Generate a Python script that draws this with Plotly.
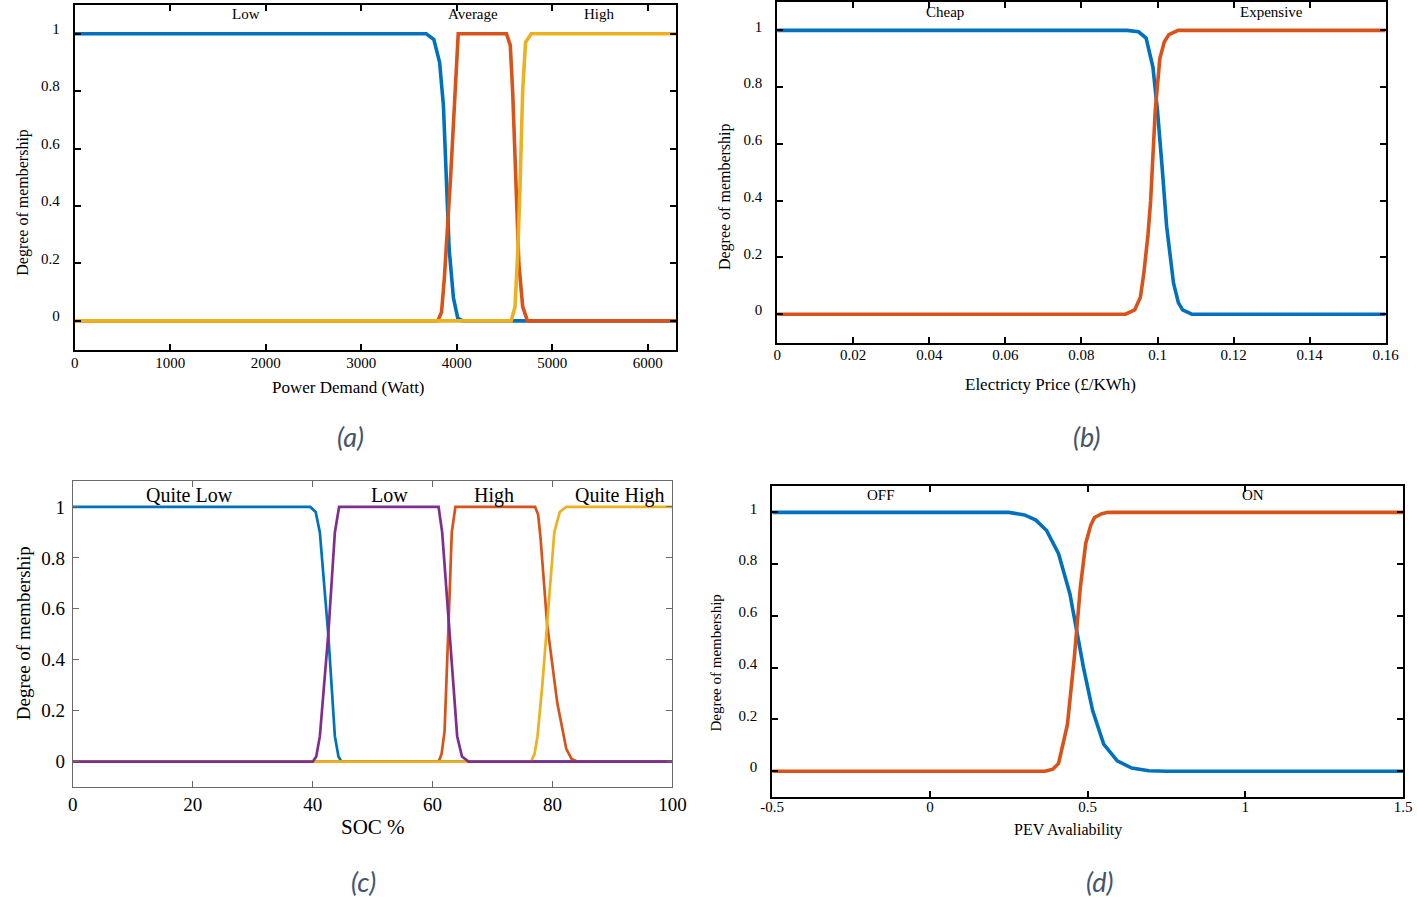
import plotly.graph_objects as go

W, H = 1417, 900

# ---------------- data ----------------
# (a) Power demand membership functions
pd_low_x = [0, 3680, 3760, 3820, 3860, 3890, 3920, 3965, 4010, 4060, 6300]
pd_low_y = [1, 1, 0.98, 0.9, 0.75, 0.5, 0.25, 0.08, 0.01, 0, 0]
pd_avg_x = [0, 3800, 3840, 3870, 3935, 4015, 4520, 4560, 4585, 4615, 4650, 4690, 4740, 6300]
pd_avg_y = [0, 0, 0.03, 0.15, 0.5, 1, 1, 0.96, 0.8, 0.5, 0.2, 0.05, 0, 0]
pd_high_x = [0, 4570, 4610, 4640, 4665, 4690, 4720, 4780, 6300]
pd_high_y = [0, 0, 0.05, 0.25, 0.5, 0.8, 0.97, 1, 1]
pd_labels = ["Low", "Average", "High"]
pd_label_x = [1790, 4170, 5490]

# (b) Electricity price membership functions
ep_cheap_x = [0, 0.092, 0.095, 0.097, 0.0988, 0.1, 0.1012, 0.1024, 0.1042, 0.1055, 0.1066, 0.109, 0.16]
ep_cheap_y = [1, 1, 0.995, 0.973, 0.87, 0.716, 0.52, 0.31, 0.11, 0.04, 0.015, 0, 0]
ep_exp_x = [0, 0.0916, 0.094, 0.0955, 0.0964, 0.0975, 0.0982, 0.0994, 0.1006, 0.1018, 0.103, 0.1054, 0.16]
ep_exp_y = [0, 0, 0.015, 0.06, 0.144, 0.28, 0.40, 0.716, 0.90, 0.96, 0.985, 1, 1]
ep_labels = ["Cheap", "Expensive"]
ep_label_x = [0.0442, 0.130]

# (c) SOC membership functions
soc_ql_x = [0, 39.6, 40.5, 41.2, 42.6, 43.7, 44.3, 44.8, 100]
soc_ql_y = [1, 1, 0.98, 0.9, 0.5, 0.1, 0.02, 0, 0]
soc_hi_x = [0, 61.0, 61.5, 62.0, 62.6, 63.2, 63.8, 77.1, 77.6, 78.0, 79.1, 80.8, 82.3, 83.2, 84.2, 100]
soc_hi_y = [0, 0, 0.03, 0.12, 0.5, 0.9, 1, 1, 0.97, 0.88, 0.54, 0.23, 0.05, 0.01, 0, 0]
soc_qh_x = [0, 76.4, 77.0, 77.5, 78.3, 79.1, 79.7, 80.3, 81.2, 82.3, 100]
soc_qh_y = [0, 0, 0.03, 0.1, 0.3, 0.54, 0.75, 0.9, 0.98, 1, 1]
soc_lo_x = [0, 40.0, 40.6, 41.2, 42.6, 43.7, 44.4, 61.0, 61.6, 62.9, 64.1, 64.9, 66.0, 100]
soc_lo_y = [0, 0, 0.02, 0.1, 0.5, 0.9, 1, 1, 0.9, 0.5, 0.1, 0.02, 0, 0]
soc_labels = ["Quite Low", "Low", "High", "Quite High"]
soc_label_x = [19.5, 52.8, 70.2, 91.2]

# (d) PEV availability membership functions
pev_off_x = [-0.5, 0.25, 0.3, 0.336, 0.37, 0.408, 0.444, 0.465, 0.487, 0.516, 0.551, 0.594, 0.64, 0.694, 0.75, 1.5]
pev_off_y = [1, 1, 0.99, 0.97, 0.93, 0.84, 0.685, 0.54, 0.40, 0.234, 0.105, 0.04, 0.012, 0.002, 0, 0]
pev_on_x = [-0.5, 0.365, 0.39, 0.408, 0.436, 0.458, 0.477, 0.494, 0.51, 0.522, 0.545, 0.565, 1.5]
pev_on_y = [0, 0, 0.008, 0.03, 0.18, 0.44, 0.71, 0.88, 0.95, 0.98, 0.995, 1, 1]
pev_labels = ["OFF", "ON"]
pev_label_x = [-0.155, 1.025]

y_ticks = [0, 0.2, 0.4, 0.6, 0.8, 1]
y_ticktext = ["0", "0.2", "0.4", "0.6", "0.8", "1"]
pd_ticks = [0, 1000, 2000, 3000, 4000, 5000, 6000]
ep_ticks = [0, 0.02, 0.04, 0.06, 0.08, 0.1, 0.12, 0.14, 0.16]
ep_ticktext = ["0", "0.02", "0.04", "0.06", "0.08", "0.1", "0.12", "0.14", "0.16"]
soc_ticks = [0, 20, 40, 60, 80, 100]
pev_ticks = [-0.5, 0, 0.5, 1, 1.5]
pev_ticktext = ["-0.5", "0", "0.5", "1", "1.5"]

captions = ["(a)", "(b)", "(c)", "(d)"]

# ---------------- styling ----------------
BLUE, RED, YEL, PUR = "#0072BD", "#D95319", "#EDB120", "#7E2F8E"
SERIF = "Liberation Serif, Times New Roman, serif"

# horizontal placement compensation (observed offset/scale of the rendered page)
X_OFF, X_SCALE = 9.0, 0.984


def px_x(p):
    v = (p - X_OFF) / X_SCALE / W
    return min(max(v, 0.0), 1.0)


def px_y(p):
    return 1 - p / H


fig = go.Figure()


def add(x, y, color, ax, width=3.6):
    fig.add_trace(go.Scatter(x=x, y=y, mode="lines", line=dict(color=color, width=width),
                             xaxis="x" + ax, yaxis="y" + ax, showlegend=False, hoverinfo="skip"))


add(pd_low_x, pd_low_y, BLUE, "")
add(pd_avg_x, pd_avg_y, RED, "")
add(pd_high_x, pd_high_y, YEL, "")

add(ep_cheap_x, ep_cheap_y, BLUE, "2")
add(ep_exp_x, ep_exp_y, RED, "2")

add(soc_ql_x, soc_ql_y, BLUE, "3", 2.7)
add(soc_hi_x, soc_hi_y, RED, "3", 2.7)
add(soc_qh_x, soc_qh_y, YEL, "3", 2.7)
add(soc_lo_x, soc_lo_y, PUR, "3", 2.7)

add(pev_off_x, pev_off_y, BLUE, "4")
add(pev_on_x, pev_on_y, RED, "4")


def axis(dom, rng, tickvals, ticktext, anchor, fsize, thick=True, shift=0, standoff=4):
    d = dict(domain=dom, range=rng, anchor=anchor, showgrid=False, zeroline=False,
             showline=True, mirror="ticks", ticks="inside",
             tickvals=tickvals, ticktext=ticktext,
             tickfont=dict(family=SERIF, size=fsize, color="black"),
             ticklabelstandoff=standoff, fixedrange=True)
    if thick:
        d.update(linecolor="black", linewidth=2, tickcolor="black", tickwidth=2, ticklen=6)
    else:
        d.update(linecolor="#6a6a6a", linewidth=1, tickcolor="#6a6a6a", tickwidth=1, ticklen=6)
    if shift:
        d.update(ticklabelshift=shift)
    return d


# pixel boxes (left, top, right, bottom) as seen in the reference
boxA = (72, 4, 675, 349)
boxB = (776, 1, 1386, 342)
boxC = (70, 481, 671, 787)
boxD = (771, 486, 1410, 797)


def doms(b):
    return [px_x(b[0]), px_x(b[2])], [px_y(b[3]), px_y(b[1])]


xa, ya = doms(boxA)
xb, yb = doms(boxB)
xc, yc = doms(boxC)
xd, yd = doms(boxD)

yr = [-0.1, 1.1]
fig.update_layout(
    width=W, height=H, margin=dict(l=0, r=0, t=0, b=0),
    paper_bgcolor="white", plot_bgcolor="white", showlegend=False,
    xaxis=axis(xa, [0, 6300], pd_ticks, [str(v) for v in pd_ticks], "y", 15, standoff=-2),
    yaxis=axis(ya, yr, y_ticks, y_ticktext, "x", 15, shift=-5, standoff=10),
    xaxis2=axis(xb, [0, 0.16], ep_ticks, ep_ticktext, "y2", 15, standoff=-3),
    yaxis2=axis(yb, yr, y_ticks, y_ticktext, "x2", 15, shift=-4, standoff=10),
    xaxis3=axis(xc, [0, 100], soc_ticks, [str(v) for v in soc_ticks], "y3", 19, thick=False, standoff=0),
    yaxis3=axis(yc, yr, y_ticks, y_ticktext, "x3", 19, thick=False, standoff=3),
    xaxis4=axis(xd, [-0.5, 1.5], pev_ticks, pev_ticktext, "y4", 15, standoff=-5),
    yaxis4=axis(yd, yr, y_ticks, y_ticktext, "x4", 15, shift=-4, standoff=10),
)

ann = []


def text(x, y, s, size, xref="paper", yref="paper", angle=0, font=SERIF, color="black", italic=False):
    ann.append(dict(x=x, y=y, xref=xref, yref=yref, text=s, showarrow=False, textangle=angle,
                    xanchor="center", yanchor="middle",
                    font=dict(family=font, size=size, color=color,
                              style="italic" if italic else "normal")))


# membership labels inside plots
for s, xv in zip(pd_labels, pd_label_x):
    text(xv, 1.068, s, 15, "x", "y")
for s, xv in zip(ep_labels, ep_label_x):
    text(xv, 1.066, s, 15, "x2", "y2")
for s, xv in zip(soc_labels, soc_label_x):
    text(xv, 1.045, s, 20, "x3", "y3")
for s, xv in zip(pev_labels, pev_label_x):
    text(xv, 1.066, s, 15, "x4", "y4")

# axis titles
text(px_x(346), px_y(387), "Power Demand (Watt)", 17)
text(px_x(1050), px_y(384), "Electricty Price (£/KWh)", 17)
text(px_x(371), px_y(827), "SOC %", 21)
text(px_x(1068), px_y(830), "PEV Avaliability", 16)
text(px_x(20), px_y(201), "Degree of membership", 16, angle=-90)
text(px_x(723), px_y(196), "Degree of membership", 16, angle=-90)
text(px_x(20), px_y(633), "Degree of membership", 19, angle=-90)
text(px_x(715), px_y(663), "Degree of membership", 15, angle=-90)

# captions
CAP = "#44546A"
for s, (cx, cy) in zip(captions, [(348, 436), (1086, 436), (361, 881), (1100, 881)]):
    text(px_x(cx), px_y(cy), s, 27, font="Lato, Open Sans, sans-serif", color=CAP, italic=True)

fig.update_layout(annotations=ann)

post = (
    "document.documentElement.style.margin='0';"
    "document.body.style.margin='0';"
    "document.body.style.overflow='hidden';"
)
fig.write_html("out.html", config={"displayModeBar": False}, post_script=post)
